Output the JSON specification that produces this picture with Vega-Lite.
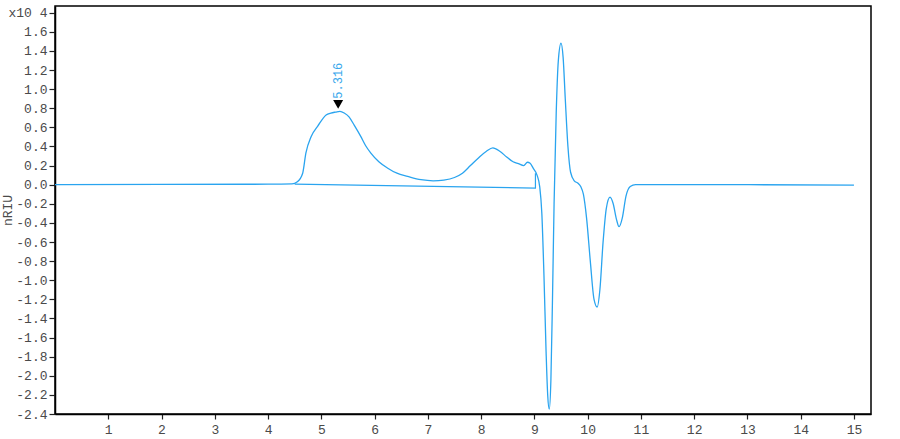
{
  "$schema": "https://vega.github.io/schema/vega-lite/v6.json",
  "autosize": {"type": "none"},
  "padding": {"left": 55, "top": 6, "right": 29, "bottom": 25},
  "width": 816,
  "height": 408,
  "background": "white",
  "config": {
    "view": {"stroke": "#000", "strokeWidth": 1.5},
    "font": "Liberation Mono",
    "axis": {"grid": false, "labelFont": "Liberation Mono", "labelFontSize": 13, "labelColor": "#4a4a4a", "titleFont": "Liberation Mono", "domainColor": "#000", "domainWidth": 1.5, "tickColor": "#222", "tickWidth": 1.2}
  },
  "datasets": {
    "trace": [
      {"t": 0, "v": 0}, {"t": 2, "v": 0.003}, {"t": 4, "v": 0.005}, {"t": 4.45, "v": 0.008},
      {"t": 4.55, "v": 0.03}, {"t": 4.65, "v": 0.12}, {"t": 4.71, "v": 0.33}, {"t": 4.81, "v": 0.505},
      {"t": 4.93, "v": 0.61}, {"t": 5.09, "v": 0.73}, {"t": 5.18, "v": 0.75}, {"t": 5.27, "v": 0.76},
      {"t": 5.35, "v": 0.767}, {"t": 5.43, "v": 0.75}, {"t": 5.52, "v": 0.71}, {"t": 5.62, "v": 0.62},
      {"t": 5.74, "v": 0.505}, {"t": 5.83, "v": 0.41}, {"t": 5.93, "v": 0.33}, {"t": 6.08, "v": 0.24},
      {"t": 6.24, "v": 0.175}, {"t": 6.42, "v": 0.12}, {"t": 6.62, "v": 0.087}, {"t": 6.87, "v": 0.052},
      {"t": 7.1, "v": 0.04}, {"t": 7.3, "v": 0.048}, {"t": 7.5, "v": 0.075}, {"t": 7.65, "v": 0.12},
      {"t": 7.8, "v": 0.2}, {"t": 7.95, "v": 0.28}, {"t": 8.1, "v": 0.35}, {"t": 8.22, "v": 0.385},
      {"t": 8.35, "v": 0.35}, {"t": 8.48, "v": 0.29}, {"t": 8.6, "v": 0.24}, {"t": 8.7, "v": 0.22},
      {"t": 8.8, "v": 0.2}, {"t": 8.87, "v": 0.235}, {"t": 8.92, "v": 0.225}, {"t": 8.98, "v": 0.17},
      {"t": 9.05, "v": 0.1}, {"t": 9.1, "v": -0.02}, {"t": 9.14, "v": -0.3}, {"t": 9.18, "v": -0.95},
      {"t": 9.22, "v": -1.75}, {"t": 9.25, "v": -2.2}, {"t": 9.28, "v": -2.35}, {"t": 9.31, "v": -2.05},
      {"t": 9.34, "v": -1.2}, {"t": 9.37, "v": -0.2}, {"t": 9.41, "v": 0.75}, {"t": 9.45, "v": 1.3},
      {"t": 9.5, "v": 1.48}, {"t": 9.54, "v": 1.33}, {"t": 9.58, "v": 0.9}, {"t": 9.63, "v": 0.4},
      {"t": 9.68, "v": 0.13}, {"t": 9.75, "v": 0.04}, {"t": 9.82, "v": 0.015}, {"t": 9.87, "v": -0.02},
      {"t": 9.92, "v": -0.1}, {"t": 9.98, "v": -0.35}, {"t": 10.05, "v": -0.8}, {"t": 10.12, "v": -1.2},
      {"t": 10.18, "v": -1.28}, {"t": 10.23, "v": -1.1}, {"t": 10.29, "v": -0.6}, {"t": 10.35, "v": -0.25},
      {"t": 10.42, "v": -0.13}, {"t": 10.48, "v": -0.2}, {"t": 10.54, "v": -0.36}, {"t": 10.59, "v": -0.44},
      {"t": 10.65, "v": -0.35}, {"t": 10.72, "v": -0.12}, {"t": 10.8, "v": -0.02}, {"t": 10.9, "v": 0},
      {"t": 13, "v": 0}, {"t": 15, "v": -0.005}
    ],
    "baseline": [
      {"i": 1, "t": 4.5, "v": 0.005},
      {"i": 2, "t": 9.02, "v": -0.035},
      {"i": 3, "t": 9.02, "v": 0.12}
    ],
    "peak": [
      {"t": 5.316, "v": 0.84, "label": "5.316", "lv": 0.9}
    ]
  },
  "encoding": {
    "x": {"field": "t", "type": "quantitative",
      "scale": {"domain": [0, 15.32], "nice": false, "zero": false},
      "axis": {"values": [1,2,3,4,5,6,7,8,9,10,11,12,13,14,15], "title": null, "tickSize": 5, "labelPadding": 4, "labelFlush": false}},
    "y": {"field": "v", "type": "quantitative",
      "scale": {"domain": [-2.4, 1.87], "nice": false, "zero": false},
      "axis": {"values": [-2.4,-2.2,-2.0,-1.8,-1.6,-1.4,-1.2,-1.0,-0.8,-0.6,-0.4,-0.2,0,0.2,0.4,0.6,0.8,1.0,1.2,1.4,1.6,1.8],
        "labelExpr": "datum.value > 1.7 ? 'x10 4' : replace(format(datum.value, '.1f'), '\u2212', '-')",
        "tickSize": 6, "labelPadding": 2, "labelFlush": false,
        "title": "nRIU", "titleFontSize": 13, "titleFontWeight": "normal", "titleColor": "#4a4a4a", "titleX": -41, "titleY": 204, "titleAngle": 270}}
  },
  "layer": [
    {"data": {"name": "trace"}, "mark": {"type": "line", "color": "#2aa4ef", "strokeWidth": 1.3, "interpolate": "monotone"}},
    {"data": {"name": "baseline"}, "mark": {"type": "line", "color": "#2aa4ef", "strokeWidth": 1.2}, "encoding": {"order": {"field": "i"}}},
    {"data": {"name": "peak"}, "mark": {"type": "point", "shape": "triangle-down", "filled": true, "color": "#000", "size": 100, "opacity": 1}},
    {"data": {"name": "peak"}, "mark": {"type": "text", "angle": 270, "align": "left", "baseline": "middle", "color": "#3aa8ec", "fontSize": 12, "font": "Liberation Mono"},
      "encoding": {"y": {"field": "lv", "type": "quantitative"}, "text": {"field": "label"}}}
  ]
}
